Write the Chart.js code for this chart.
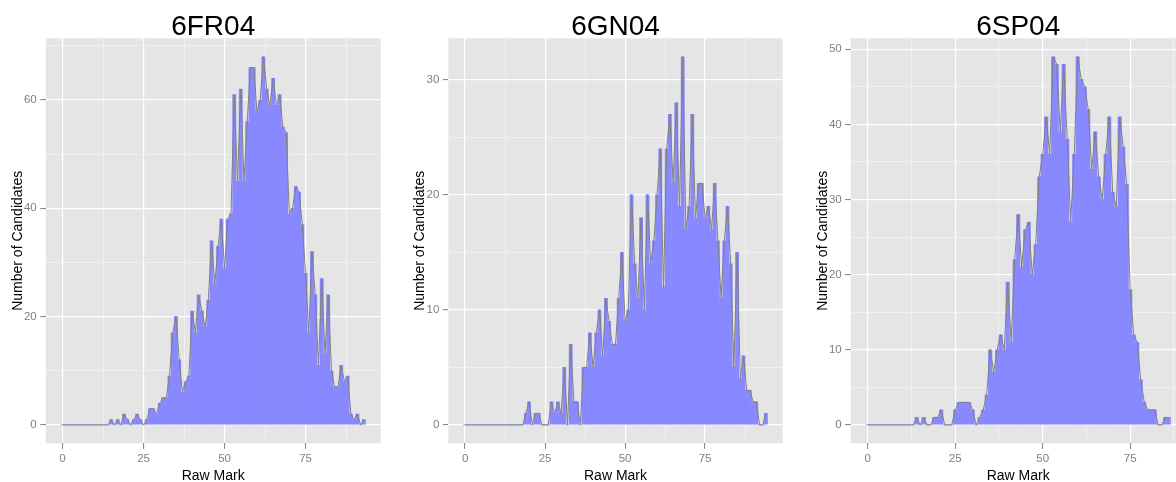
<!DOCTYPE html>
<html>
<head>
<meta charset="utf-8">
<script src="https://cdn.jsdelivr.net/npm/chart.js@4.4.1/dist/chart.umd.min.js"></script>
<style>
  body { margin: 0; background: #ffffff; overflow: hidden; }
  #wrap { position: relative; width: 1176px; height: 482px; overflow: hidden; }
  canvas { position: absolute; top: 0; }
</style>
</head>
<body>
<div id="wrap">
  <canvas id="c0" width="403" height="482" style="left:0px"></canvas>
  <canvas id="c1" width="403" height="482" style="left:402px"></canvas>
  <canvas id="c2" width="403" height="482" style="left:804px"></canvas>
</div>
<script>
const titles = ["6FR04", "6GN04", "6SP04"];
const xTitle = "Raw Mark";
const yTitle = "Number of Candidates";

// number of candidates on each raw mark, first entry is mark 0
const fr04 = [0,0,0,0,0,0,0,0,0,0,0,0,0,0,0,
  1,0,1,0,2,1,0,1,2,1,
  0,1,3,3,2,4,5,5,9,17,
  20,12,6,8,9,21,17,24,21,18,
  23,34,26,33,38,29,38,39,61,45,
  62,45,56,66,66,58,60,68,62,59,
  64,59,61,55,54,39,40,44,43,37,
  28,17,32,24,11,27,13,24,10,7,
  7,11,8,9,2,1,2,0,1];
const gn04 = [0,0,0,0,0,0,0,0,0,0,0,0,0,0,0,0,0,0,0,
  1,2,0,1,1,0,
  0,0,2,1,2,1,5,0,7,2,
  2,0,5,5,8,5,8,10,6,11,
  9,7,7,11,15,9,10,20,14,11,
  18,10,20,14,16,20,24,12,24,27,
  21,28,19,32,17,19,27,18,21,21,
  18,19,17,21,16,11,16,19,14,5,
  15,4,6,3,3,2,2,0,0,1];
const sp04 = [0,0,0,0,0,0,0,0,0,0,0,0,0,0,
  1,0,1,0,0,1,1,2,0,0,0,
  2,3,3,3,3,2,0,1,2,4,
  10,7,10,12,10,19,11,22,28,21,
  26,27,20,24,33,36,41,36,49,48,
  39,48,38,27,36,49,46,45,42,34,
  39,33,30,36,41,31,29,41,37,32,
  18,12,11,6,3,2,2,2,0,0,1,1];

const xMajor = [0, 25, 50, 75];
const xMinor = [12.5, 37.5, 62.5, 87.5];
const yMajorFR = [0, 20, 40, 60];
const yMinorFR = [10, 30, 50, 70];
const yMajorGN = [0, 10, 20, 30];
const yMinorGN = [5, 15, 25];
const yMajorSP = [0, 10, 20, 30, 40, 50];
const yMinorSP = [5, 15, 25, 35, 45];

const FONT = '"Liberation Sans", Arial, sans-serif';

const ggPlugin = {
  id: 'gg',
  beforeDraw(chart) {
    const a = chart.chartArea, c = chart.ctx;
    c.save();
    c.fillStyle = '#e5e5e5';
    c.fillRect(a.left, a.top, a.right - a.left, a.bottom - a.top);
    c.restore();
  },
  afterDraw(chart, args, opts) {
    const a = chart.chartArea, c = chart.ctx;
    const cx = (a.left + a.right) / 2;
    c.save();
    c.fillStyle = '#000000';
    c.textAlign = 'center';
    c.textBaseline = 'alphabetic';
    c.font = '28px ' + FONT;
    c.fillText(opts.title, cx, 35);
    c.font = '14px ' + FONT;
    c.fillText(xTitle, cx, 479.5);
    c.translate(a.left - 24, (a.top + a.bottom) / 2);
    c.rotate(-Math.PI / 2);
    c.fillText(yTitle, 0, 0);
    c.restore();
  }
};

function makePanel(id, title, counts, yMajor, yMinor, padLeft, padRight) {
  const points = counts.map((v, i) => ({ x: i, y: v }));
  const lo = -0.5, hi = counts.length - 0.5;
  const xPad = 0.05 * (hi - lo);
  const yTop = Math.max(...counts);
  const yPad = 0.05 * yTop;

  const xTicks = xMajor.concat(xMinor).sort((a, b) => a - b);
  const yTicks = yMajor.concat(yMinor).sort((a, b) => a - b);

  const gridColor = (majors) => (ctx) => majors.includes(ctx.tick.value) ? '#ffffff' : '#f2f2f2';
  const gridWidth = (majors) => (ctx) => majors.includes(ctx.tick.value) ? 1.2 : 0.8;
  const tickColor = (majors) => (ctx) => majors.includes(ctx.tick.value) ? '#7f7f7f' : 'rgba(0,0,0,0)';

  new Chart(document.getElementById(id), {
    type: 'bar',
    data: {
      datasets: [
        {
          type: 'line',
          data: points,
          borderColor: '#808080',
          borderWidth: 1,
          pointRadius: 0,
          tension: 0,
          fill: false,
          order: 0
        },
        {
          type: 'bar',
          data: points,
          backgroundColor: '#8888ff',
          borderWidth: 0,
          barPercentage: 1,
          categoryPercentage: 1,
          order: 1
        }
      ]
    },
    options: {
      responsive: false,
      animation: false,
      devicePixelRatio: 1,
      events: [],
      layout: { padding: { left: padLeft, right: padRight, top: 38.3, bottom: 0 } },
      plugins: {
        legend: { display: false },
        tooltip: { enabled: false },
        gg: { title: title }
      },
      scales: {
        x: {
          type: 'linear',
          offset: false,
          min: lo - xPad,
          max: hi + xPad,
          afterBuildTicks: (s) => { s.ticks = xTicks.map(v => ({ value: v })); },
          afterFit: (s) => { s.height = 38.7; },
          border: { display: false },
          grid: {
            offset: false,
            color: gridColor(xMajor),
            lineWidth: gridWidth(xMajor),
            tickColor: tickColor(xMajor),
            tickLength: 5.5,
            tickWidth: 1
          },
          ticks: {
            autoSkip: false,
            maxRotation: 0,
            padding: 3.5,
            color: '#7f7f7f',
            font: { family: FONT, size: 11.5 },
            callback: (v) => xMajor.includes(v) ? String(v) : ''
          }
        },
        y: {
          type: 'linear',
          min: -yPad,
          max: yTop + yPad,
          afterBuildTicks: (s) => { s.ticks = yTicks.map(v => ({ value: v })); },
          afterFit: (s) => { s.width = 40; },
          border: { display: false },
          grid: {
            color: gridColor(yMajor),
            lineWidth: gridWidth(yMajor),
            tickColor: tickColor(yMajor),
            tickLength: 5.5,
            tickWidth: 1
          },
          ticks: {
            autoSkip: false,
            padding: 3.5,
            color: '#7f7f7f',
            font: { family: FONT, size: 11.5 },
            callback: (v) => yMajor.includes(v) ? String(v) : ''
          }
        }
      }
    },
    plugins: [ggPlugin]
  });
}

makePanel('c0', titles[0], fr04, yMajorFR, yMinorFR, 5.7, 22.3);
makePanel('c1', titles[1], gn04, yMajorGN, yMinorGN, 6.3, 22.3);
makePanel('c2', titles[2], sp04, yMajorSP, yMinorSP, 6.7, 21.3);
</script>
</body>
</html>
